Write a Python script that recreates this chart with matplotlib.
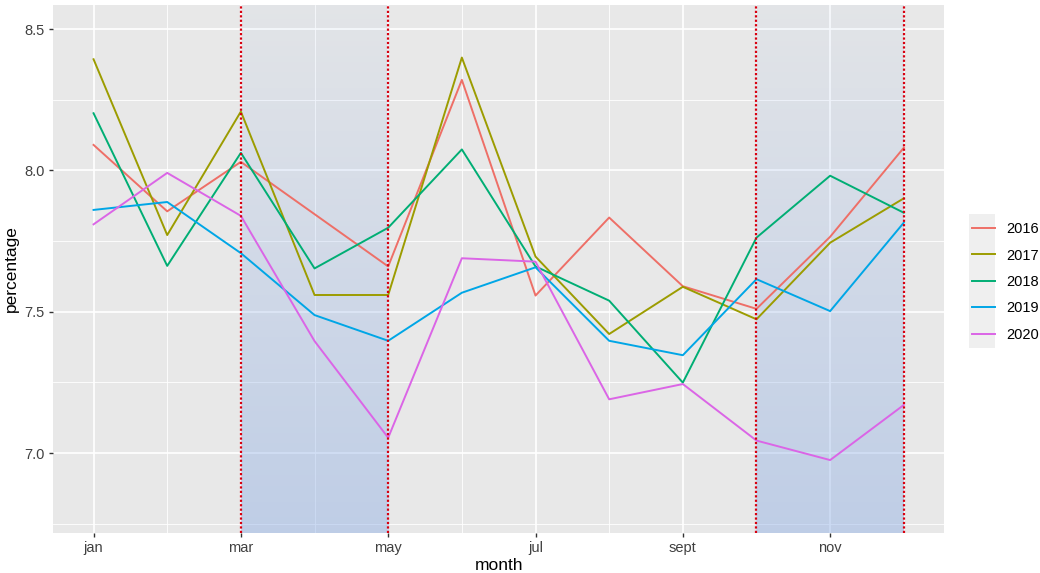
import matplotlib
matplotlib.use("Agg")
import matplotlib.pyplot as plt
import numpy as np
from matplotlib.patches import Rectangle

plt.rcParams['font.family'] = ['Liberation Sans', 'DejaVu Sans']

months = np.arange(1, 13)
tick_months = [1, 3, 5, 7, 9, 11]
tick_labels = ['jan', 'mar', 'may', 'jul', 'sept', 'nov']

years = ['2016', '2017', '2018', '2019', '2020']
colors = ['#EE6F67', '#9C9C00', '#00AE74', '#00A6E6', '#DB65E6']

pct_2016 = [8.09, 7.855, 8.03, 7.845, 7.66, 8.32, 7.557, 7.833, 7.59, 7.51, 7.765, 8.08]
pct_2017 = [8.393, 7.771, 8.208, 7.559, 7.559, 8.399, 7.695, 7.421, 7.588, 7.473, 7.744, 7.901]
pct_2018 = [8.202, 7.662, 8.062, 7.653, 7.797, 8.074, 7.66, 7.539, 7.249, 7.762, 7.981, 7.85]
pct_2019 = [7.86, 7.888, 7.707, 7.488, 7.397, 7.567, 7.657, 7.397, 7.346, 7.615, 7.502, 7.815]
pct_2020 = [7.809, 7.991, 7.839, 7.396, 7.054, 7.689, 7.677, 7.19, 7.244, 7.044, 6.975, 7.17]
series = [pct_2016, pct_2017, pct_2018, pct_2019, pct_2020]

shade_ranges = [(3, 5), (10, 12)]

fig = plt.figure(figsize=(10.4, 5.73), dpi=100)
ax = fig.add_axes([0.051, 0.0698, 0.857, 0.9215])
ax.set_facecolor('#E8E8E8')
ylo, yhi = 6.717, 8.585

# grid
ax.set_xticks(tick_months)
ax.set_xticklabels(tick_labels)
ax.set_xticks([2, 4, 6, 8, 10, 12], minor=True)
ax.set_yticks([7.0, 7.5, 8.0, 8.5])
ax.set_yticklabels(['7.0', '7.5', '8.0', '8.5'])
ax.set_yticks([6.75, 7.25, 7.75, 8.25], minor=True)
ax.set_axisbelow(True)
ax.grid(which='major', color='white', linewidth=1.2)
ax.grid(which='minor', color='white', linewidth=0.6)
for s in ax.spines.values():
    s.set_visible(False)
ax.tick_params(which='major', length=3, width=1, color='#333333',
               labelsize=10.5, labelcolor='#404040', pad=3)
ax.tick_params(which='minor', length=0)

# gradient shading
n = 256
alpha = np.linspace(0.45, 0.06, n)[:, None]
grad = np.zeros((n, 1, 4))
grad[..., 0] = 0.55
grad[..., 1] = 0.68
grad[..., 2] = 0.90
grad[..., 3] = alpha
for x0, x1 in shade_ranges:
    ax.imshow(grad, extent=[x0, x1, ylo, yhi], origin='lower', aspect='auto',
              interpolation='bilinear', zorder=1)
ax.set_xlim(0.45, 12.55)
ax.set_ylim(ylo, yhi)

for yr, vals, c in zip(years, series, colors):
    ax.plot(months, vals, color=c, linewidth=1.4, label=yr, zorder=2)

for x0, x1 in shade_ranges:
    for xv in (x0, x1):
        ax.axvline(xv, color='#D7000F', linestyle=(0, (1, 1)), linewidth=1.6, zorder=3)

ax.set_xlabel('month', fontsize=12.5, labelpad=2)
ax.set_ylabel('percentage', fontsize=12.5, labelpad=4)

fig.patches.append(Rectangle((0.9317, 0.3927), 0.025, 0.234, transform=fig.transFigure,
                             facecolor='#EFEFEF', edgecolor='none', zorder=0))
handles, labels = ax.get_legend_handles_labels()
fig.legend(handles, labels, loc='center left', bbox_to_anchor=(0.9346, 0.508),
           frameon=False, fontsize=10.5, handlelength=1.55, handletextpad=0.8,
           labelspacing=0.85, borderpad=0, borderaxespad=0)

fig.savefig('out.png', dpi=100)
